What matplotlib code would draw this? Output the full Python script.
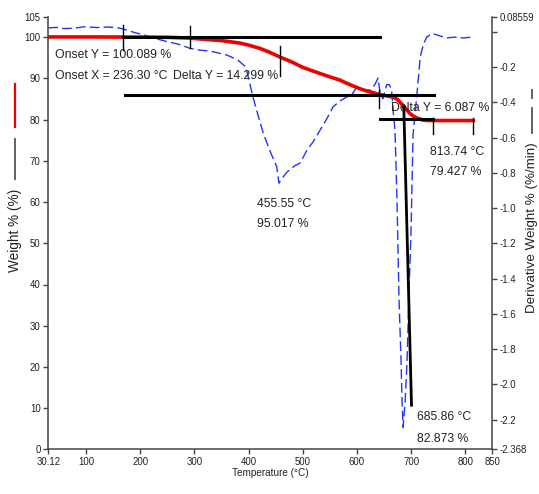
import numpy as np
import matplotlib
matplotlib.use('Agg')
import matplotlib.pyplot as plt
from matplotlib import font_manager
from matplotlib.lines import Line2D

# narrow font for horizontal text (the original looks squeezed sideways)
try:
    font_manager.findfont('Liberation Sans Narrow', fallback_to_default=False)
    narrow, k = 'Liberation Sans Narrow', 1.0
except ValueError:
    narrow, k = 'Liberation Sans', 0.82

# weight curve (red, left axis)
temp_w = [30.12, 100, 200, 250, 292, 310, 350, 384, 400, 421, 440, 458, 480, 500,
          532, 550, 569, 580, 606, 620, 643, 650, 667, 675, 685, 690, 698, 705,
          711, 722, 730, 760, 790, 815]
weight = [100.09, 100.09, 100.05, 100.0, 99.8, 99.6, 99.2, 98.6, 98.1, 97.3, 96.3,
          95.2, 94.0, 92.7, 91.2, 90.4, 89.6, 88.9, 87.5, 86.9, 86.1, 85.9, 85.5,
          84.9, 83.5, 82.7, 81.5, 80.8, 80.4, 79.9, 79.8, 79.8, 79.8, 79.8]

# derivative curve (blue dashed, right axis)
temp_d = [30.12, 45, 60, 80, 95, 110, 120, 140, 160, 175, 190, 210, 230, 250, 270,
          292, 310, 330, 360, 380, 395, 408, 418, 427, 440, 452, 456, 462, 471,
          485, 495, 508, 520, 532, 545, 556, 570, 582, 592, 600, 610, 625, 633,
          639, 643, 648, 655, 660, 664, 667, 670.3, 674, 677.8, 681.5, 683.3,
          685.2, 688.9, 692.6, 696.3, 700, 703.6, 711, 717, 723, 729, 739, 750,
          766, 780, 795, 815]
deriv = [0.022, 0.025, 0.018, 0.021, 0.028, 0.026, 0.024, 0.027, 0.022, 0.01,
         -0.005, -0.02, -0.04, -0.056, -0.07, -0.094, -0.104, -0.11, -0.132, -0.16,
         -0.2, -0.369, -0.48, -0.575, -0.68, -0.766, -0.859, -0.83, -0.795, -0.76,
         -0.745, -0.67, -0.62, -0.558, -0.49, -0.425, -0.39, -0.369, -0.35, -0.312,
         -0.33, -0.33, -0.3, -0.263, -0.35, -0.38, -0.3, -0.3, -0.33, -0.45,
         -0.558, -0.956, -1.524, -1.865, -2.09, -2.244, -2.108, -1.865, -1.467,
         -1.126, -0.586, -0.35, -0.14, -0.07, -0.03, -0.01, -0.02, -0.035, -0.03,
         -0.035, -0.03]

# analysis marker lines (temperature, weight %)
hlines = [(168, 643, 100.05), (172, 742, 85.9), (643, 740, 80.1)]
vticks = [(168, 103.1, 96.8), (292, 102.8, 97.3), (458, 98.0, 90.5),
          (641, 87.1, 82.9), (740, 80.4, 76.6), (814, 80.4, 76.6)]
peak_line_t = [686.6, 700.8]
peak_line_w = [83.0, 10.7]

# annotation texts (temperature, weight %, text)
notes = [(42.5, 95.8, 'Onset Y = 100.089 %'),
         (42.5, 90.7, 'Onset X = 236.30 °C'),
         (260.4, 90.6, 'Delta Y = 14.299 %'),
         (415.5, 59.5, '455.55 °C'),
         (415.5, 54.6, '95.017 %'),
         (663, 82.8, 'Delta Y = 6.087 %'),
         (735, 72.1, '813.74 °C'),
         (735, 67.2, '79.427 %'),
         (710.2, 7.8, '685.86 °C'),
         (710.2, 2.5, '82.873 %')]

x_ticks = [30.12, 100, 200, 300, 400, 500, 600, 700, 800, 850]
x_labels = ['30.12', '100', '200', '300', '400', '500', '600', '700', '800', '850']
yl_ticks = [0, 10, 20, 30, 40, 50, 60, 70, 80, 90, 100, 105]
yr_ticks = [0.08559, 0.0, -0.2, -0.4, -0.6, -0.8, -1.0, -1.2, -1.4, -1.6, -1.8,
            -2.0, -2.2, -2.368]
yr_labels = ['0.08559', ''] + ['%.1f' % v for v in yr_ticks[2:-1]] + ['-2.368']

txt = '#222222'
fig = plt.figure(figsize=(5.39, 4.94), dpi=100)
ax = fig.add_axes([48.3 / 539, 1 - 449.3 / 494, 444 / 539, 432.6 / 494])
ax2 = ax.twinx()
ax.set_zorder(ax2.get_zorder() + 1)
ax.patch.set_visible(False)

ax2.plot(temp_d, deriv, color='#2233ff', lw=1.0, ls=(0, (7, 3)))
ax.plot(temp_w, weight, color='#ee0000', lw=2.6)

for t0, t1, w in hlines:
    ax.plot([t0, t1], [w, w], color='black', lw=2.2)
for t, w0, w1 in vticks:
    ax.plot([t, t], [w0, w1], color='black', lw=1.0)
ax.plot(peak_line_t, peak_line_w, color='black', lw=2.0)

for t, w, s in notes:
    ax.text(t, w, s, ha='left', va='center', fontsize=10.8 * k, family=narrow,
            color=txt)

ax.set_xlim(30.12, 850)
ax.set_ylim(0, 105)
ax2.set_ylim(-2.368, 0.08559)
ax.set_xticks(x_ticks)
ax.set_xticklabels(x_labels)
ax.set_yticks(yl_ticks)
ax2.set_yticks(yr_ticks)
ax2.set_yticklabels(yr_labels)

for a in (ax, ax2):
    a.spines['top'].set_visible(False)
    for sp in a.spines.values():
        sp.set_color('#444444')
        sp.set_linewidth(1.1)
    a.tick_params(length=3.5, width=1, color='#444444', labelsize=8.5 * k,
                  labelcolor=txt, pad=2)
    for lab in a.get_xticklabels() + a.get_yticklabels():
        lab.set_family(narrow)
ax.spines['right'].set_visible(False)
ax2.spines['left'].set_visible(False)
ax2.spines['bottom'].set_visible(False)

ax.set_xlabel('Temperature (°C)', fontsize=8.8 * k, family=narrow, color=txt,
              labelpad=1)

# axis titles with their line keys
fig.text(15 / 539, 1 - 230 / 494, 'Weight % (%)', rotation=90, ha='center',
         va='center', fontsize=9.8, family='Liberation Sans', color=txt)
fig.add_artist(Line2D([15 / 539] * 2, [1 - 84 / 494, 1 - 127 / 494],
                      color='#ee0000', lw=1.6))
fig.add_artist(Line2D([15 / 539] * 2, [1 - 139 / 494, 1 - 179 / 494],
                      color='#555555', lw=1.3))
fig.text(532 / 539, 1 - 228 / 494, 'Derivative Weight % (%/min)', rotation=90,
         ha='center', va='center', fontsize=9.6, family='Liberation Sans',
         color=txt)
fig.add_artist(Line2D([532 / 539] * 2, [1 - 108 / 494, 1 - 133 / 494],
                      color='#555555', lw=1.3))
fig.add_artist(Line2D([532 / 539] * 2, [1 - 90 / 494, 1 - 98 / 494],
                      color='#555555', lw=1.3))

fig.savefig('out.png', dpi=100)
